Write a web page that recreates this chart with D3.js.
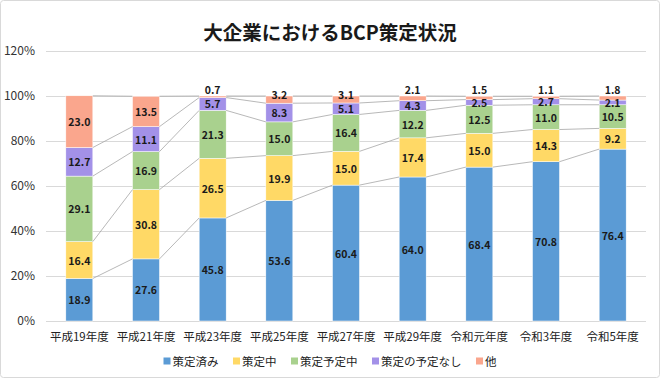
<!DOCTYPE html>
<html><head><meta charset="utf-8">
<script src="https://cdn.jsdelivr.net/npm/d3@7"></script>
<style>
html,body{margin:0;padding:0;background:#fff;}
svg{display:block;font-family:"Noto Sans CJK JP","Noto Sans",sans-serif;}
</style></head>
<body>
<svg id="chart" width="660" height="378"></svg>
<script>
const categories = ["平成19年度","平成21年度","平成23年度","平成25年度","平成27年度","平成29年度","令和元年度","令和3年度","令和5年度"];
const seriesNames = ["策定済み","策定中","策定予定中","策定の予定なし","他"];
const sakuteiZumi   = [18.9, 27.6, 45.8, 53.6, 60.4, 64.0, 68.4, 70.8, 76.4];
const sakuteiChu    = [16.4, 30.8, 26.5, 19.9, 15.0, 17.4, 15.0, 14.3, 9.2];
const yoteiChu      = [29.1, 16.9, 21.3, 15.0, 16.4, 12.2, 12.5, 11.0, 10.5];
const yoteiNashi    = [12.7, 11.1, 5.7, 8.3, 5.1, 4.3, 2.5, 2.7, 2.1];
const sonota        = [23.0, 13.5, 0.7, 3.2, 3.1, 2.1, 1.5, 1.1, 1.8];
const yTicks = [0, 20, 40, 60, 80, 100, 120];
const colors = ["#5B9BD5","#FFD966","#A9D18E","#A391E8","#FAA68D"];
const title = "大企業におけるBCP策定状況";

const seriesValues = [sakuteiZumi, sakuteiChu, yoteiChu, yoteiNashi, sonota];
const table = categories.map((c,i)=>{
  const o = {cat:c};
  seriesNames.forEach((s,k)=>o[s]=seriesValues[k][i]);
  return o;
});
const stacked = d3.stack().keys(seriesNames)(table);

const svg = d3.select("#chart");
const W = 660, H = 378;
svg.append("rect").attr("x",0.5).attr("y",0.5).attr("width",W-1).attr("height",H-1)
  .attr("rx",3).attr("fill","#fff").attr("stroke","#D9D9D9");

const x = d3.scaleBand().domain(categories).range([46,646]).paddingInner(0.595).paddingOuter(0.2975);
const y = d3.scaleLinear().domain([0,120]).range([321,51]);

// title
svg.append("text").attr("x",330).attr("y",31).attr("text-anchor","middle")
  .attr("dominant-baseline","central").attr("font-size","19.5px").attr("font-weight","bold")
  .attr("fill","#1a1a1a").text(title);

// grid
const yAxis = d3.axisLeft(y).tickValues(yTicks).tickFormat(d=>d+"%").tickSize(-600).tickPadding(11);
const gy = svg.append("g").attr("transform","translate(46,0)").call(yAxis);
gy.select(".domain").remove();
gy.selectAll(".tick line").attr("stroke","#D9D9D9").attr("stroke-width",1);
gy.selectAll(".tick text").attr("font-size","12px").attr("fill","#333")
  .attr("font-family","\"Noto Sans CJK JP\",sans-serif");

// bars
const layers = svg.append("g").selectAll("g").data(stacked).join("g")
  .attr("fill",(d,i)=>colors[i]);
layers.selectAll("rect").data(d=>d).join("rect")
  .attr("x",d=>x(d.data.cat)).attr("width",x.bandwidth())
  .attr("y",d=>y(d[1])).attr("height",d=>y(d[0])-y(d[1]))
  .attr("stroke","#fff").attr("stroke-width",0.5);

// series lines
const bw = x.bandwidth();
stacked.forEach(layer=>{
  for(let i=0;i<layer.length-1;i++){
    svg.append("line")
      .attr("x1",x(categories[i])+bw).attr("y1",y(layer[i][1]))
      .attr("x2",x(categories[i+1])).attr("y2",y(layer[i+1][1]))
      .attr("stroke","#A6A6A6").attr("stroke-width",0.8);
  }
});

// labels
stacked.forEach((layer,k)=>{
  layer.forEach(d=>{
    const v = d[1]-d[0];
    let cy = y((d[0]+d[1])/2);
    if(k===seriesNames.length-1 && v<4){
      cy = v<3 ? y(100)-7 : y(100)-1.5;
    }
    svg.append("text").attr("x",x(d.data.cat)+bw/2).attr("y",cy)
      .attr("text-anchor","middle").attr("dominant-baseline","central")
      .attr("font-size","10.5px").attr("font-weight","bold").attr("fill","#1a1a1a")
      .text(d3.format(".1f")(v));
  });
});

// x axis labels
const xAxis = d3.axisBottom(x).tickSize(0).tickPadding(12);
const gx = svg.append("g").attr("transform","translate(0,321)").call(xAxis);
gx.select(".domain").remove();
gx.selectAll(".tick text").attr("font-size","11.5px").attr("fill","#222")
  .attr("font-family","\"Noto Sans CJK JP\",sans-serif");

// legend
const lg = svg.append("g");
const items = seriesNames.map((n,i)=>{
  const g = lg.append("g");
  g.append("rect").attr("width",7).attr("height",7).attr("y",-3.5).attr("fill",colors[i]);
  const t = g.append("text").attr("x",9).attr("dominant-baseline","central")
    .attr("font-size","11.5px").attr("fill","#222").text(n);
  return {g, w: 9 + t.node().getComputedTextLength()};
});
const gap = 14.5;
const total = d3.sum(items,d=>d.w) + gap*(items.length-1);
let cx = 330 - total/2;
items.forEach(it=>{ it.g.attr("transform",`translate(${cx},361)`); cx += it.w + gap; });
</script>
</body></html>
